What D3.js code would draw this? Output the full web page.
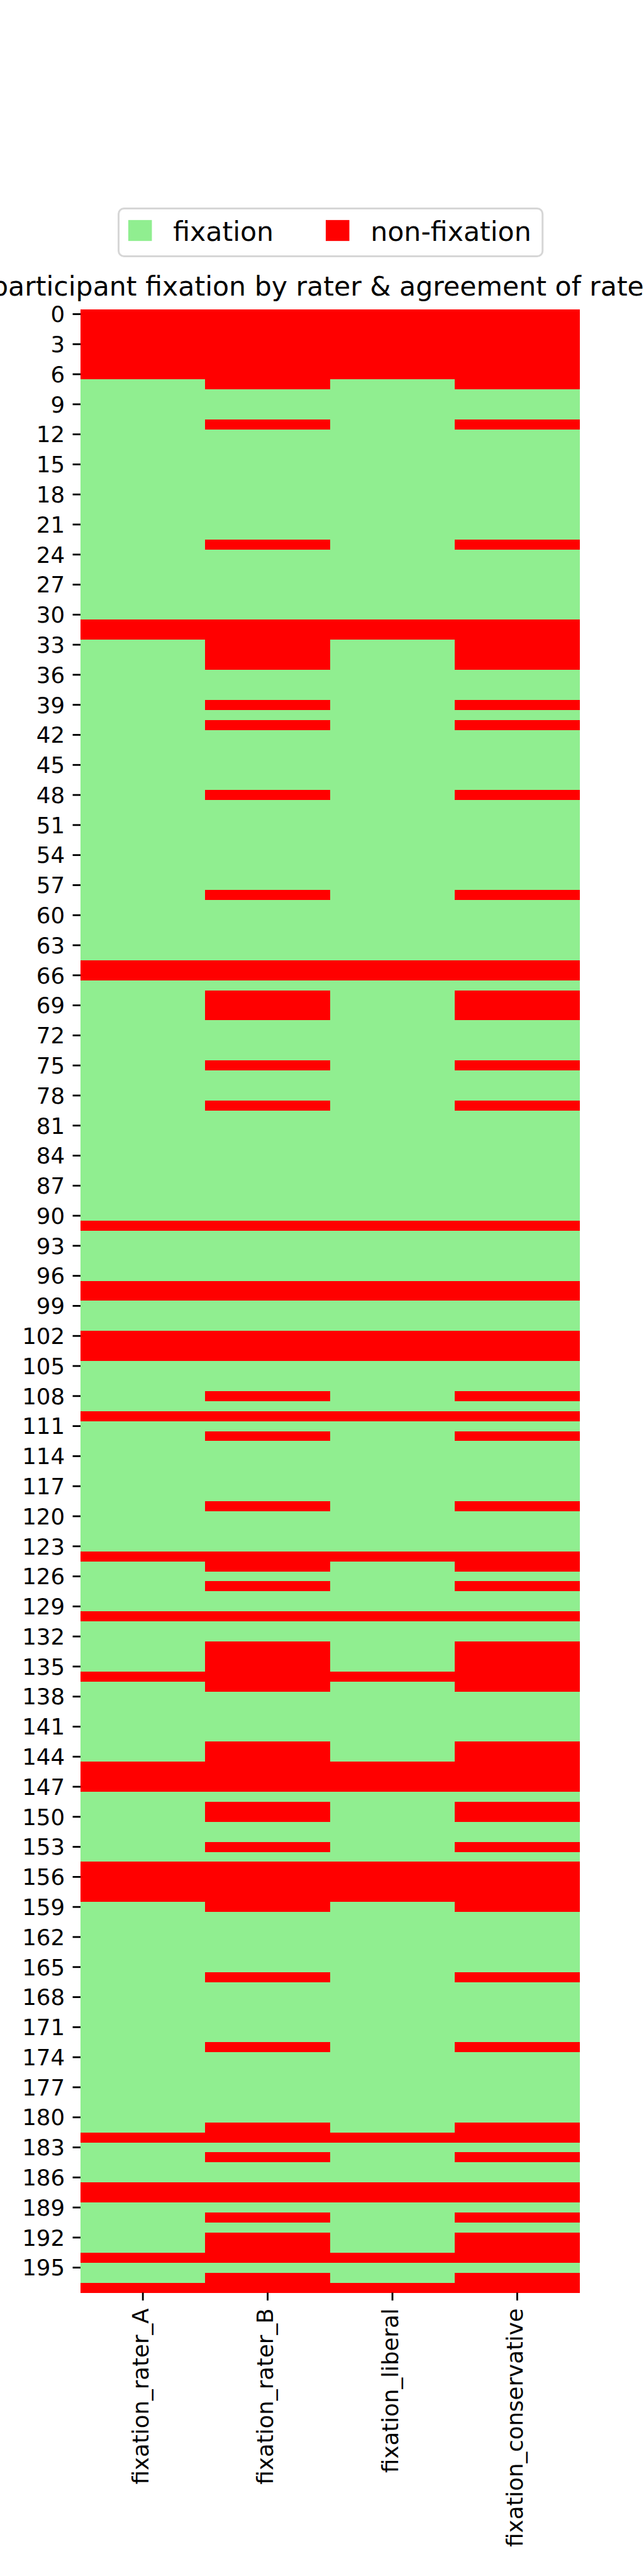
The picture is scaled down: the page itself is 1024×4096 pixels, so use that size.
<!DOCTYPE html>
<html>
<head>
<meta charset="utf-8">
<script src="https://cdn.jsdelivr.net/npm/d3@7"></script>
<style>
  html, body { margin: 0; padding: 0; background: #fff; }
  svg { display: block; }
  text { font-family: "DejaVu Sans", sans-serif; }
</style>
</head>
<body>
<svg id="chart"></svg>
<script>
// ---- data (1 = fixation, 0 = non-fixation), rows 0..197 ----
const columns = ["fixation_rater_A", "fixation_rater_B", "fixation_liberal", "fixation_conservative"];
const raterA =       "0000000111 1111111111 1111111111 1001111111 1111111111 1111111111 1111100111 1111111111 1111111111 1011111001 1100011111 0111111111 1111011111 0111110111 1111100011 1111100001 1111111111 1111111111 1101111001 11110110";
const raterB =       "0000000011 1011111111 1110111111 1000001110 1011111101 1111111101 1111100100 0111101110 1111111111 1011111001 1100011101 0101111110 1111001011 0110000011 1110000010 0110100000 1111110111 1110111111 1001011001 01000100";
const liberal =      "0000000111 1111111111 1111111111 1001111111 1111111111 1111111111 1111100111 1111111111 1111111111 1011111001 1100011111 0111111111 1111011111 0111110111 1111100011 1111100001 1111111111 1111111111 1101111001 11110110";
const conservative = "0000000011 1011111111 1110111111 1000001110 1011111101 1111111101 1111100100 0111101110 1111111111 1011111001 1100011101 0101111110 1111001011 0110000011 1110000010 0110100000 1111110111 1110111111 1001011001 01000100";
const legendLabels = ["fixation", "non-fixation"];
const legendColors = ["#90ee90", "#ff0000"];
const chartTitle = "participant fixation by rater & agreement of raters";

(function () {
const parse = s => s.replace(/\s+/g, "").split("").map(Number);
const series = [raterA, raterB, liberal, conservative].map(parse);
const nRows = series[0].length;
const rowIds = d3.range(nRows);
const yTicks = rowIds.filter(i => i % 3 === 0);

const cells = [];
columns.forEach((c, ci) => series[ci].forEach((v, r) => cells.push({ col: c, row: r, v })));

// ---- layout in reference pixel units (1200x4800), scaled to 1024x4096 ----
const W = 1200, H = 4800;
const svg = d3.select("#chart")
  .attr("width", 1024).attr("height", 4096)
  .attr("viewBox", `0 0 ${W} ${H}`);

const mLeft = 150, mRight = 1080, mTop = 576, mBottom = 4272;
const fs = 41.67;        // 10pt @300dpi
const tickLen = 14.6, tickPad = 14.6, tickW = 3.33;

const x = d3.scaleBand().domain(columns).range([mLeft, mRight]).padding(0);
const y = d3.scaleBand().domain(rowIds).range([mTop, mBottom]).padding(0);
const color = d3.scaleOrdinal().domain([1, 0]).range(legendColors);

// cells
svg.append("g").attr("shape-rendering", "crispEdges")
  .selectAll("rect").data(cells).join("rect")
  .attr("x", d => x(d.col))
  .attr("y", d => y(d.row))
  .attr("width", x.bandwidth() + 0.6)
  .attr("height", y.bandwidth() + 0.6)
  .attr("fill", d => color(d.v));

// y axis
const yAxis = svg.append("g").attr("transform", `translate(${mLeft},0)`)
  .call(d3.axisLeft(y).tickValues(yTicks).tickSize(tickLen).tickPadding(tickPad));
yAxis.select(".domain").remove();
yAxis.selectAll(".tick line").attr("stroke", "#000").attr("stroke-width", tickW);
yAxis.selectAll(".tick text")
  .attr("font-size", fs).attr("fill", "#000")
  .attr("font-family", "DejaVu Sans, sans-serif")
  .attr("dy", "0.36em");

// x axis
const xAxis = svg.append("g").attr("transform", `translate(0,${mBottom})`)
  .call(d3.axisBottom(x).tickSize(tickLen).tickPadding(tickPad));
xAxis.select(".domain").remove();
xAxis.selectAll(".tick line").attr("stroke", "#000").attr("stroke-width", tickW);
xAxis.selectAll(".tick text")
  .attr("font-size", fs).attr("fill", "#000")
  .attr("font-family", "DejaVu Sans, sans-serif")
  .attr("transform", "rotate(-90)")
  .attr("text-anchor", "end")
  .attr("x", -(tickLen + tickPad))
  .attr("y", 0)
  .attr("dy", "0.25em");

// title
svg.append("text")
  .attr("x", (mLeft + mRight) / 2).attr("y", 551)
  .attr("text-anchor", "middle")
  .attr("font-size", 50).attr("fill", "#000")
  .text(chartTitle);

// legend
const lg = svg.append("g");
lg.append("rect")
  .attr("x", 221).attr("y", 388.5).attr("width", 790).attr("height", 89)
  .attr("rx", 10).attr("ry", 10)
  .attr("fill", "#fff").attr("stroke", "#d6d6d6").attr("stroke-width", 3.5);
const legX = [239, 607];
const items = lg.selectAll("g.item").data(legendLabels).join("g").attr("class", "item")
  .attr("transform", (d, i) => `translate(${legX[i]},0)`);
items.append("rect")
  .attr("x", 0).attr("y", 410).attr("width", 44).attr("height", 39)
  .attr("fill", (d, i) => legendColors[i]);
items.append("text")
  .attr("x", 83.5).attr("y", 449)
  .attr("font-size", 50).attr("fill", "#000")
  .text(d => d);
})();
</script>
</body>
</html>
